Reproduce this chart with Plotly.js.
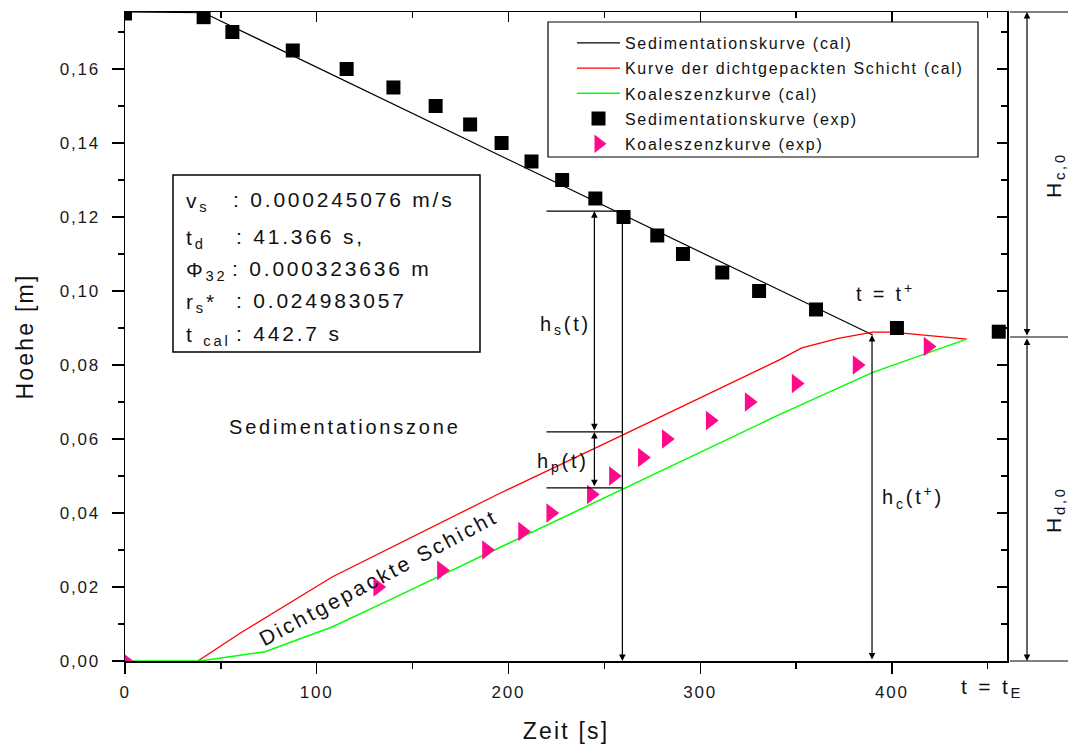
<!DOCTYPE html>
<html>
<head>
<meta charset="utf-8">
<script src="https://cdn.plot.ly/plotly-3.0.1.min.js"></script>
<style>
  html, body { margin: 0; padding: 0; background: #fff; }
  #chart { width: 1073px; height: 747px; }
  svg text { letter-spacing: 1.8px; }
  svg text.legendtext { letter-spacing: 1.7px; }
  svg text.annotation-text { letter-spacing: 2.8px; }
  svg text.xtitle, svg text.ytitle { letter-spacing: 2.2px; }
</style>
</head>
<body>
<div id="chart"></div>
<script>
// ---- data ----
const sedExpT = [0, 41, 56, 87.5, 115.6, 140, 162, 180, 196.4, 212, 228, 245.3, 260, 277.6, 291, 311.5, 330.7, 360.4, 402.6, 455.7];
const sedExpH = [0.175, 0.174, 0.170, 0.165, 0.160, 0.155, 0.150, 0.145, 0.140, 0.135, 0.130, 0.125, 0.120, 0.115, 0.110, 0.105, 0.100, 0.095, 0.090, 0.089];

const koalExpT = [0, 131.8, 165, 188.5, 207.3, 222, 243.2, 254.7, 269.8, 282.3, 305.2, 325.5, 350, 381.8, 418.8];
const koalExpH = [0, 0.020, 0.0245, 0.030, 0.035, 0.040, 0.045, 0.050, 0.055, 0.060, 0.065, 0.070, 0.075, 0.080, 0.085];

const sedCalT = [0, 41, 390];
const sedCalH = [0.1754, 0.1752, 0.0881];

const packCalT = [38, 60, 108, 195, 260, 341, 353, 372, 390, 400, 439];
const packCalH = [0, 0.0075, 0.0227, 0.0452, 0.0612, 0.0813, 0.0846, 0.0872, 0.0889, 0.0889, 0.0870];

const koalCalT = [0, 39, 73, 108, 140, 195, 341, 390, 439];
const koalCalH = [0, 0, 0.0025, 0.0092, 0.017, 0.0305, 0.0665, 0.078, 0.0870];

const legendNames = [
  'Sedimentationskurve (cal)',
  'Kurve der dichtgepackten Schicht (cal)',
  'Koaleszenzkurve (cal)',
  'Sedimentationskurve (exp)',
  'Koaleszenzkurve (exp)'
];

const paramLabels = ['v<sub>s</sub>', 't<sub>d</sub>', 'Φ<sub>32</sub>', 'r<sub>s</sub>*', 't <sub>cal</sub>'];
const paramValues = [': 0.000245076 m/s', ': 41.366 s,', ': 0.000323636 m', ': 0.024983057', ': 442.7 s'];

const xTickStep = 100, yTickStep = 0.02;
// ---- end data ----

const FONT = '"Liberation Sans", Arial, sans-serif';
const XR = [0, 460], YR = [0, 0.1754];
const W = 1073, H = 747, ML = 125, MR = 66, MT = 12, MB = 86;
const PW = W - ML - MR, PH = H - MT - MB;
const px = function (p) { return (p - ML) / PW; };
const py = function (p) { return (H - MB - p) / PH; };

const traces = [
  {x: sedCalT, y: sedCalH, mode: 'lines', name: legendNames[0], legendgroup: 'g0', line: {color: '#000000', width: 1.2}},
  {x: packCalT, y: packCalH, mode: 'lines', name: legendNames[1], legendgroup: 'g1', line: {color: '#ff0000', width: 1.3}},
  {x: koalCalT, y: koalCalH, mode: 'lines', name: legendNames[2], legendgroup: 'g2', line: {color: '#00ff00', width: 1.5}},
  {x: sedExpT, y: sedExpH, mode: 'markers', name: legendNames[3], legendgroup: 'g3', marker: {symbol: 'square', size: 14, color: '#000000'}},
  {x: koalExpT, y: koalExpH, mode: 'markers', name: legendNames[4], legendgroup: 'g4', marker: {symbol: 'triangle-right', size: 17, color: '#ff0a8c'}},
  {x: [], y: [], xaxis: 'x2', yaxis: 'y2', showlegend: false, hoverinfo: 'skip'}
];

function arrow(x0, y0, x1, y1, side) {
  return {x: x1, y: y1, ax: x0, ay: y0, xref: 'x', yref: 'y', axref: 'x', ayref: 'y',
    text: '', showarrow: true, arrowhead: 2, arrowsize: 1.1, arrowwidth: 1.2,
    arrowcolor: '#000', arrowside: side, standoff: 0, startstandoff: 0};
}
function txt(x, y, text, size, extra) {
  return Object.assign({x: x, y: y, xref: 'x', yref: 'y', text: text, showarrow: false,
    xanchor: 'center', yanchor: 'middle',
    font: {family: FONT, size: size, color: '#111'}}, extra || {});
}
function ptxt(x, y, text, size, extra) {
  return Object.assign({x: x, y: y, xref: 'paper', yref: 'paper', text: text, showarrow: false,
    xanchor: 'center', yanchor: 'middle',
    font: {family: FONT, size: size, color: '#111'}}, extra || {});
}

const rowLabelY = [202, 239, 271, 303, 336];
const rowValueY = [199, 236, 268, 300, 333];
const rowValueX = [231, 234, 230, 234, 234];
const boxAnn = [];
paramLabels.forEach(function (lab, i) {
  boxAnn.push(ptxt(px(184), py(rowLabelY[i]), lab, 21, {xanchor: 'left'}));
  boxAnn.push(ptxt(px(rowValueX[i]), py(rowValueY[i]), paramValues[i], 21, {xanchor: 'left'}));
});

const annotations = [
  arrow(244.8, 0.0619, 244.8, 0.1216, 'end+start'),
  arrow(244.8, 0.0468, 244.8, 0.0619, 'end+start'),
  arrow(259.4, 0.1197, 259.4, 0.0, 'end'),
  arrow(389.6, 0.0, 389.6, 0.0881, 'end+start'),
  {x: px(1027), y: 1, xref: 'paper', yref: 'paper', ax: 0, ay: 325, axref: 'pixel', ayref: 'pixel',
    text: '', showarrow: true, arrowhead: 2, arrowsize: 1.1, arrowwidth: 1.2, arrowcolor: '#000', arrowside: 'end+start', standoff: 0, startstandoff: 0},
  {x: px(1027), y: 0, xref: 'paper', yref: 'paper', ax: 0, ay: -324, axref: 'pixel', ayref: 'pixel',
    text: '', showarrow: true, arrowhead: 2, arrowsize: 1.1, arrowwidth: 1.2, arrowcolor: '#000', arrowside: 'end+start', standoff: 0, startstandoff: 0},
  txt(229.5, 0.0907, 'h<sub>s</sub>(t)', 20),
  txt(228.4, 0.0537, 'h<sub>p</sub>(t)', 20),
  txt(411, 0.0442, 'h<sub>c</sub>(t<sup>+</sup>)', 20),
  txt(396.4, 0.0995, 't = t<sup>+</sup>', 20),
  txt(114.7, 0.0632, 'Sedimentationszone', 20),
  txt(132, 0.0226, 'Dichtgepackte Schicht', 21, {textangle: -28}),
  ptxt(px(992), py(688), 't = t<sub>E</sub>', 21),
  ptxt(px(1055), py(175), 'H<sub>c,0</sub>', 21, {textangle: -90}),
  ptxt(px(1055), py(510), 'H<sub>d,0</sub>', 21, {textangle: -90})
].concat(boxAnn);

const shapes = [
  {type: 'rect', xref: 'paper', yref: 'paper', x0: px(173), x1: px(480), y0: py(352), y1: py(175),
    line: {color: '#000', width: 1.5}, fillcolor: '#ffffff', layer: 'above'},
  {type: 'rect', xref: 'paper', yref: 'paper', x0: px(548), x1: px(978), y0: py(157), y1: py(22),
    line: {color: '#000', width: 1.2}, fillcolor: 'rgba(0,0,0,0)', layer: 'above'},
  {type: 'line', xref: 'x', yref: 'y', x0: 219.8, x1: 259.4, y0: 0.1216, y1: 0.1216, line: {color: '#000', width: 1.2}},
  {type: 'line', xref: 'x', yref: 'y', x0: 219.8, x1: 259.4, y0: 0.0619, y1: 0.0619, line: {color: '#000', width: 1.2}},
  {type: 'line', xref: 'x', yref: 'y', x0: 219.8, x1: 259.4, y0: 0.0468, y1: 0.0468, line: {color: '#000', width: 1.2}},
  {type: 'line', xref: 'paper', yref: 'paper', x0: px(1010), x1: px(1068), y0: 1, y1: 1, line: {color: '#000', width: 1.2}},
  {type: 'line', xref: 'paper', yref: 'paper', x0: px(1010), x1: px(1068), y0: py(337), y1: py(337), line: {color: '#000', width: 1.2}},
  {type: 'line', xref: 'paper', yref: 'paper', x0: px(1010), x1: px(1068), y0: 0, y1: 0, line: {color: '#000', width: 1.2}}
];

const tickFont = {family: FONT, size: 17, color: '#1a1a1a'};

const layout = {
  width: W, height: H,
  margin: {l: ML, r: MR, t: MT, b: MB},
  paper_bgcolor: '#ffffff', plot_bgcolor: '#ffffff',
  separators: ', ',
  font: {family: FONT, color: '#111'},
  showlegend: true,
  legend: {
    x: px(572), y: py(26), xanchor: 'left', yanchor: 'top',
    bgcolor: 'rgba(255,255,255,0)', borderwidth: 0,
    font: {family: FONT, size: 16, color: '#111'},
    tracegroupgap: 1.4, itemwidth: 43
  },
  xaxis: {
    range: XR, dtick: xTickStep, tick0: 0, ticks: 'outside', ticklen: 11, tickwidth: 1.3, tickcolor: '#000',
    showline: true, linecolor: '#000', linewidth: 1.5, mirror: true,
    showgrid: false, zeroline: false, tickfont: tickFont, ticklabelstandoff: 4,
    minor: {ticks: 'outside', dtick: 50, ticklen: 6, tickwidth: 1.3, tickcolor: '#000', showgrid: false},
    title: {text: 'Zeit [s]', font: {family: FONT, size: 23, color: '#111'}, standoff: 22},
    automargin: 'left+right'
  },
  yaxis: {
    range: YR, dtick: yTickStep, tick0: 0, tickformat: '.2f', ticks: 'outside', ticklen: 12, tickwidth: 1.3, tickcolor: '#000',
    showline: true, linecolor: '#000', linewidth: 1.5, mirror: true,
    showgrid: false, zeroline: false, tickfont: tickFont, ticklabelstandoff: 8,
    minor: {ticks: 'outside', dtick: 0.01, ticklen: 6, tickwidth: 1.3, tickcolor: '#000', showgrid: false},
    title: {text: 'Hoehe [m]', font: {family: FONT, size: 23, color: '#111'}, standoff: 20},
    automargin: true
  },
  xaxis2: {
    overlaying: 'x', side: 'top', range: XR, dtick: xTickStep, tick0: 0, ticks: 'inside', ticklen: 10, tickwidth: 1.3,
    tickcolor: '#000', showticklabels: false, showgrid: false, zeroline: false, showline: false,
    minor: {ticks: 'inside', dtick: 50, ticklen: 6, tickwidth: 1.3, tickcolor: '#000', showgrid: false}
  },
  yaxis2: {
    overlaying: 'y', side: 'right', range: YR, dtick: yTickStep, tick0: 0, ticks: 'inside', ticklen: 10, tickwidth: 1.3,
    tickcolor: '#000', showticklabels: false, showgrid: false, zeroline: false, showline: false,
    minor: {ticks: 'inside', dtick: 0.01, ticklen: 6, tickwidth: 1.3, tickcolor: '#000', showgrid: false}
  },
  annotations: annotations,
  shapes: shapes
};

Plotly.newPlot('chart', traces, layout, {staticPlot: true, displayModeBar: false});
</script>
</body>
</html>
